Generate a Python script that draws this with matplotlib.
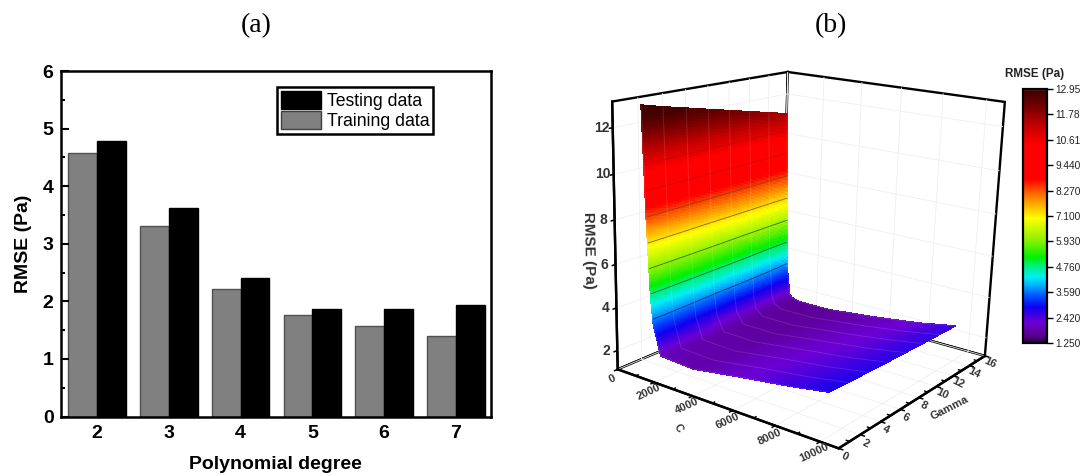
import numpy as np
import matplotlib
matplotlib.use("Agg")
import matplotlib.pyplot as plt
from matplotlib.cm import ScalarMappable
from matplotlib.colors import LinearSegmentedColormap, Normalize
from matplotlib.patches import Patch

plt.rcParams['font.family'] = ['Liberation Sans', 'DejaVu Sans']
plt.rcParams['grid.color'] = '#efefef'
plt.rcParams['grid.linewidth'] = 0.6

# panel (a)
degrees = [2, 3, 4, 5, 6, 7]
training_rmse = [4.58, 3.30, 2.21, 1.77, 1.57, 1.40]
testing_rmse = [4.78, 3.62, 2.41, 1.87, 1.87, 1.93]

# panel (b), heights
c_values = [32, 230, 420, 560, 950, 2700, 5400, 7560, 9290]
gamma_values = [2.2, 4, 6, 8, 10, 12, 14, 16]
rmse_surface = [
    [12.75, 7.80, 4.20, 2.90, 1.50, 1.40, 1.80, 2.10, 2.40],
    [12.50, 7.50, 4.00, 2.70, 1.45, 1.38, 1.78, 2.06, 2.36],
    [12.25, 7.00, 3.60, 2.40, 1.40, 1.35, 1.74, 2.02, 2.32],
    [12.00, 6.40, 3.10, 2.10, 1.35, 1.33, 1.70, 1.98, 2.28],
    [11.75, 5.80, 2.70, 1.80, 1.30, 1.30, 1.66, 1.95, 2.25],
    [11.50, 5.00, 2.20, 1.60, 1.28, 1.28, 1.62, 1.92, 2.22],
    [11.25, 4.00, 1.80, 1.45, 1.25, 1.26, 1.58, 1.88, 2.20],
    [11.00, 3.00, 1.50, 1.35, 1.24, 1.25, 1.55, 1.85, 2.18],
]
contour_levels = [3.59, 4.76, 5.93, 7.10, 8.27, 9.44, 10.61]
contour_colors = ['#303068', '#206068', '#307030', '#707020', '#804810', '#c01000', '#c80000']

cb_ticks = [1.25, 2.42, 3.59, 4.76, 5.93, 7.10, 8.27, 9.44, 10.61, 11.78, 12.95]
cb_labels = ['1.250', '2.420', '3.590', '4.760', '5.930', '7.100', '8.270', '9.440', '10.61', '11.78', '12.95']
cmap_values = [1.25, 1.6, 2.2, 2.9, 3.4, 3.9, 4.3, 4.8, 5.2, 5.9, 7.0, 7.6, 8.2, 8.8, 10.4, 11.3, 12.2, 12.88, 12.95]
cmap_colors = ['#2a0044', '#5a0090', '#6c00d4', '#1000f0', '#0050ff', '#00b0ff', '#00f0f0', '#00f080', '#00f000',
               '#80f000', '#ffff00', '#ffb000', '#ff6000', '#ff0000', '#ff0000', '#c00000', '#700000', '#400000', '#e8b8b8']

W, H = 1086, 476
fig = plt.figure(figsize=(W / 100, H / 100), dpi=100)


def px(x, y):
    return x / W, 1 - y / H


fig.text(*px(256, 26), '(a)', family='Liberation Serif', fontsize=20, ha='center', va='center')
fig.text(*px(831, 26), '(b)', family='Liberation Serif', fontsize=20, ha='center', va='center')

# --- bars ---
ax1 = fig.add_axes([60.5 / W, 1 - 416.5 / H, 430.5 / W, 345.5 / H])
x = np.array(degrees)
ax1.bar(x - 0.2, training_rmse, 0.4, color='#808080', edgecolor='#505050', linewidth=1)
ax1.bar(x + 0.2, testing_rmse, 0.4, color='black', edgecolor='black', linewidth=1)
ax1.set_xlim(1.49, 7.49)
ax1.set_ylim(0, 6)
ax1.set_xticks(degrees)
ax1.set_yticks(range(7))
ax1.set_yticks(np.arange(0.5, 6, 1), minor=True)
ax1.tick_params(axis='x', length=0, pad=6, labelsize=14)
ax1.tick_params(axis='y', which='major', direction='in', length=6, width=1.5, pad=5, labelsize=14)
ax1.tick_params(axis='y', which='minor', direction='in', length=3, width=1.5)
for t in ax1.get_xticklabels() + ax1.get_yticklabels():
    t.set_fontweight('bold')
for s in ax1.spines.values():
    s.set_linewidth(1.8)
ax1.set_xlabel('Polynomial degree', fontsize=14, fontweight='bold', labelpad=10)
ax1.set_ylabel('RMSE (Pa)', fontsize=14, fontweight='bold', labelpad=8)
handles = [Patch(facecolor='black', edgecolor='black', label='Testing data'),
           Patch(facecolor='#808080', edgecolor='#404040', label='Training data')]
ax1.legend(handles=handles, loc='upper left', bbox_to_anchor=((277 - 60.5) / 430.5, (416.5 - 87) / 345.5),
           borderaxespad=0, fontsize=12.7, fancybox=False, framealpha=1, edgecolor='black',
           handlelength=2.3, handleheight=1.2, labelspacing=0.1, borderpad=0.2, handletextpad=0.35).get_frame().set_linewidth(1.8)

# --- surface ---
ax2 = fig.add_axes([575.3 / W, 4.8 / H, 457 / W, 457 / H], projection='3d')
ax2.set_facecolor('none')
ax2.computed_zorder = False
ax2.set_proj_type('persp', focal_length=0.4612)
ax2.view_init(16.57, -54.45, -1.74)
ax2.set_box_aspect((0.9952, 1.0045, 1.0))

cmap = LinearSegmentedColormap.from_list(
    'rmse', [((v - cb_ticks[0]) / (cb_ticks[-1] - cb_ticks[0]), col) for v, col in zip(cmap_values, cmap_colors)], N=768)
cb_norm = Normalize(cb_ticks[0], cb_ticks[-1])
# the colours sit 0.45 above the heights against the printed z axis
height_shift = 0.45
surf_norm = Normalize(cb_ticks[0] - height_shift, cb_ticks[-1] - height_shift)

# shading mesh only: facets take one colour each, so the read table is subdivided for a smooth ramp
z_table = np.array(rmse_surface)
c_mesh = np.concatenate([np.linspace(c_values[i], c_values[i + 1], 40 if i < 4 else 6, endpoint=False)
                         for i in range(len(c_values) - 1)] + [[c_values[-1]]])
g_mesh = np.concatenate([np.linspace(gamma_values[i], gamma_values[i + 1], 8, endpoint=False)
                         for i in range(len(gamma_values) - 1)] + [[gamma_values[-1]]])
z_rows = np.array([np.interp(c_mesh, c_values, row) for row in z_table])
z_mesh = np.array([np.interp(g_mesh, gamma_values, col) for col in z_rows.T]).T
X, Y = np.meshgrid(c_mesh, g_mesh)
ax2.plot_surface(X, Y, z_mesh, facecolors=cmap(np.clip(surf_norm(z_mesh), 0, 0.99)), rcount=X.shape[0], ccount=X.shape[1],
                 shade=False, linewidth=0.4, antialiased=False, zorder=1)
ax2.contour(X, Y, z_mesh, levels=[v - height_shift for v in contour_levels], colors=contour_colors,
            linewidths=0.6, zorder=2)
for g, row in zip(gamma_values, z_table):
    ax2.plot(c_values, [g] * len(c_values), row, color='white', alpha=0.12, linewidth=0.7, zorder=3)

z_low, z_high = 1.1, 13.1
c_high = 10800
for c in range(1000, 10000, 2000):
    ax2.plot([c, c], [0, 0.2], [z_low, z_low], color='black', linewidth=1.0, zorder=0.5)
for g in range(1, 16, 2):
    ax2.plot([c_high, c_high - 140], [g, g], [z_low, z_low], color='black', linewidth=1.0, zorder=0.5)

ax2.set_xlim(0, c_high, view_margin=0)
ax2.set_ylim(0, 16, view_margin=0)
ax2.set_zlim(z_low, z_high, view_margin=0)
ax2.set_xticks(range(0, 10001, 2000))
ax2.set_yticks(range(0, 17, 2))
ax2.set_zticks(range(2, 13, 2))
ax2.set_xticklabels([str(v) for v in range(0, 10001, 2000)], rotation=25, fontsize=8, fontweight='bold',
                    color='#333333', ha='center', va='center')
ax2.set_yticklabels([str(v) for v in range(0, 17, 2)], rotation=-25, fontsize=8, fontweight='bold',
                    color='#333333', ha='center', va='center')
ax2.set_zticklabels([str(v) for v in range(2, 13, 2)], fontsize=10, fontweight='bold', color='#333333',
                    ha='center', va='center')
ax2.tick_params(axis='x', pad=-3)
ax2.tick_params(axis='y', pad=-4)
ax2.tick_params(axis='z', pad=-3.3)
ax2.zaxis.set_ticks_position('lower')
for axis in (ax2.xaxis, ax2.yaxis, ax2.zaxis):
    axis.set_pane_color((1, 1, 1, 1))
    axis.pane.set_closed(True)
    axis.pane.set_edgecolor('black')
    axis.pane.set_linewidth(1.7)
    axis.line.set_color('black')
    axis.line.set_linewidth(1.7)
    axis._axinfo['tick'].update(inward_factor=0.2, outward_factor=0, linewidth={True: 1.1, False: 0.6})

fig.text(*px(678, 428), 'C', fontsize=8, fontweight='bold', color='#333333', rotation=-60, ha='center', va='center')
fig.text(*px(950, 408), 'Gamma', fontsize=8, fontweight='bold', color='#333333', rotation=27, ha='center', va='center')
fig.text(*px(589, 250), 'RMSE (Pa)', fontsize=11, fontweight='bold', color='#333333', rotation=-89, ha='center', va='center')

# --- colour bar ---
cax = fig.add_axes([1023 / W, 1 - 343 / H, 24 / W, 254 / H])
cb = fig.colorbar(ScalarMappable(norm=cb_norm, cmap=cmap), cax=cax, ticks=cb_ticks)
cb.ax.set_yticklabels(cb_labels)
cb.ax.tick_params(length=4, width=1, pad=2, labelsize=7.3, labelcolor='#222222')
cb.outline.set_linewidth(1.6)
fig.text(*px(1035, 74), 'RMSE (Pa)', fontsize=8.4, fontweight='bold', color='#222222', ha='center', va='center')

plt.savefig('out.png', dpi=100)
